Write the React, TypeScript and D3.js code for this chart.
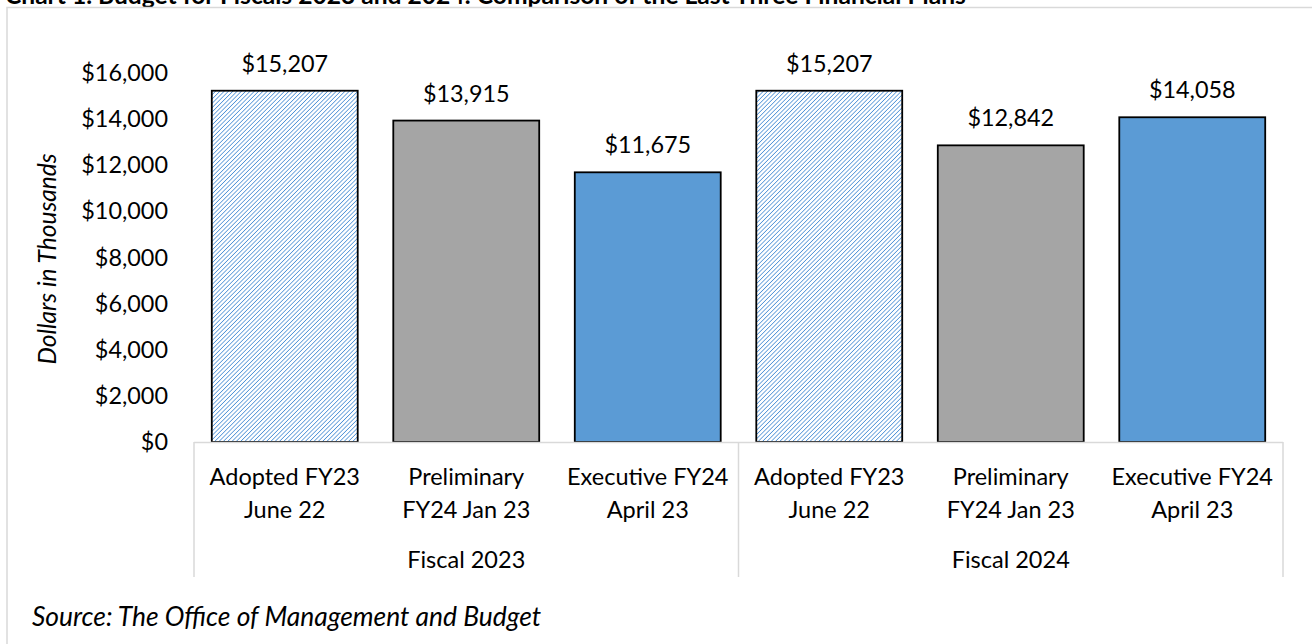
import React from "react";
import * as d3 from "d3";

const categories = [
  ["Adopted FY23", "June 22"],
  ["Preliminary", "FY24 Jan 23"],
  ["Executive FY24", "April 23"],
  ["Adopted FY23", "June 22"],
  ["Preliminary", "FY24 Jan 23"],
  ["Executive FY24", "April 23"],
];
const groups = ["Fiscal 2023", "Fiscal 2024"];
const values = [15207, 13915, 11675, 15207, 12842, 14058];
const fills = ["hatch", "#a5a5a5", "#5b9bd5", "hatch", "#a5a5a5", "#5b9bd5"];
const yTicks = [0, 2000, 4000, 6000, 8000, 10000, 12000, 14000, 16000];
const title = "Chart 1. Budget for Fiscals 2023 and 2024: Comparison of the Last Three Financial Plans";
const yTitle = "Dollars in Thousands";
const source = "Source: The Office of Management and Budget";

const W = 1312, H = 644;
const FONT = "Lato, 'Open Sans', sans-serif";

export default function App() {
  const x = d3.scaleBand<number>().domain(d3.range(values.length)).range([194, 1283]).paddingInner(0.196).paddingOuter(0.098);
  const y = d3.scaleLinear().domain([0, 16000]).range([442, 72.4]);
  const fmt = (v: number) => "$" + d3.format(",")(v);
  const step = x.step();
  const groupBounds = groups.map((_, g) => [194 + g * 3 * step, 194 + (g + 1) * 3 * step]);
  return (
    <svg width={W} height={H} style={{ position: "absolute", left: 0, top: 0, background: "#fff" }} fontFamily={FONT}>
      <defs>
        <pattern id="hatch" width="3.05" height="3.05" patternUnits="userSpaceOnUse" patternTransform="rotate(45)">
          <rect width="3.05" height="3.05" fill="#fff" />
          <line x1="0" y1="0" x2="0" y2="3.05" stroke="#4a8fd6" strokeWidth="1.5" />
        </pattern>
      </defs>
      <rect width={W} height={H} fill="#fff" />
      <text x={5} y={4} fontSize={24.6} fontWeight="bold" fill="#000">{title}</text>
      <rect x={7} y={7.5} width={1320} height={660} fill="none" stroke="#d9d9d9" strokeWidth={1.5} />
      {yTicks.map((t) => (
        <text key={t} x={168} y={y(t)} dy="0.36em" textAnchor="end" fontSize={23.4} fill="#000">{fmt(t)}</text>
      ))}
      <text transform={`translate(56,259) rotate(-90)`} textAnchor="middle" fontSize={24.5} fontStyle="italic" fill="#000">{yTitle}</text>
      {values.map((v, i) => (
        <g key={i}>
          <rect x={x(i)} y={y(v)} width={x.bandwidth()} height={y(0) - y(v)} fill={fills[i] === "hatch" ? "url(#hatch)" : fills[i]} stroke="#000" strokeWidth={1.8} />
          <text x={(x(i) as number) + x.bandwidth() / 2} y={y(v) - 19} textAnchor="middle" fontSize={23.4} fill="#000">{fmt(v)}</text>
          <text x={(x(i) as number) + x.bandwidth() / 2} y={485} textAnchor="middle" fontSize={23.5} fill="#000">{categories[i][0]}</text>
          <text x={(x(i) as number) + x.bandwidth() / 2} y={518} textAnchor="middle" fontSize={23.5} fill="#000">{categories[i][1]}</text>
        </g>
      ))}
      <line x1={194} x2={1283} y1={442.5} y2={442.5} stroke="#d9d9d9" strokeWidth={1.5} />
      {[194, ...groupBounds.map((b) => b[1])].map((xx, i) => (
        <line key={i} x1={xx} x2={xx} y1={442} y2={577} stroke="#d9d9d9" strokeWidth={1.5} />
      ))}
      {groups.map((g, i) => (
        <text key={g} x={(groupBounds[i][0] + groupBounds[i][1]) / 2} y={568} textAnchor="middle" fontSize={23.5} fill="#000">{g}</text>
      ))}
      <text x={32} y={626} fontSize={26.4} fontStyle="italic" fill="#000">{source}</text>
    </svg>
  );
}
